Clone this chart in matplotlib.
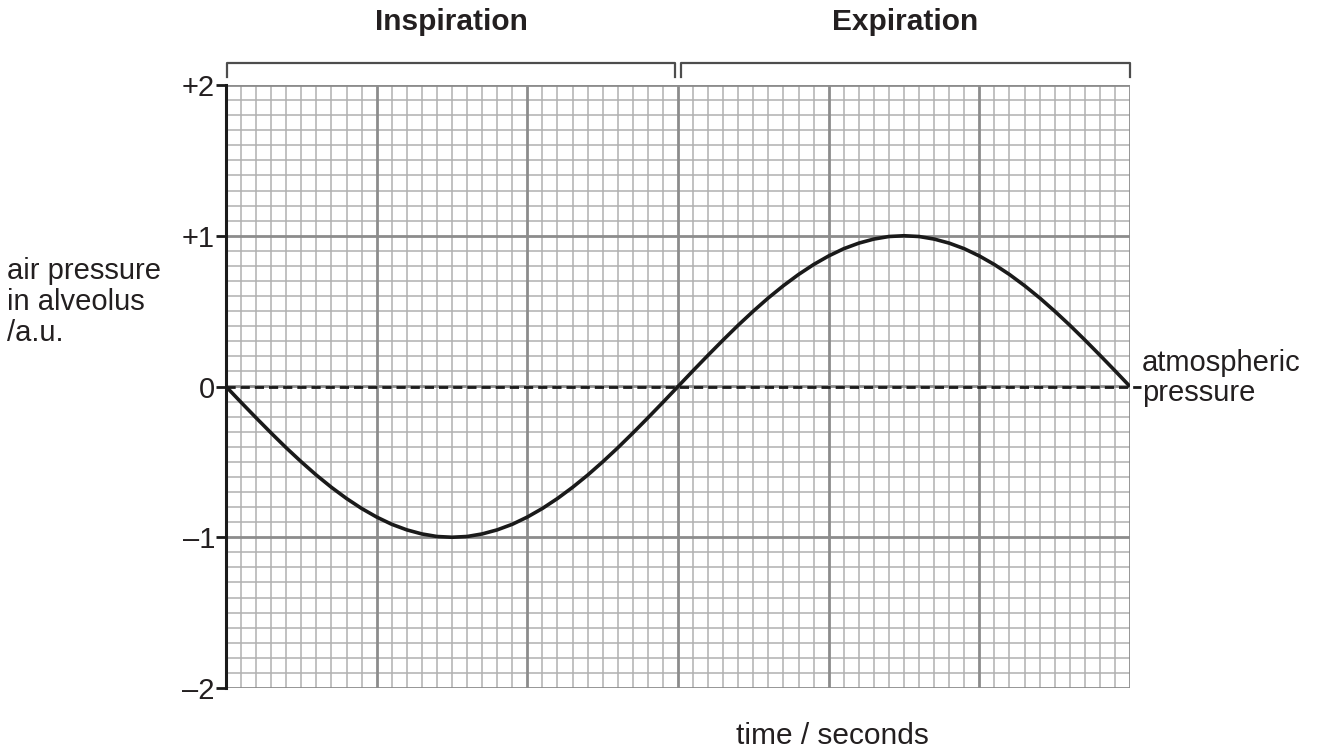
import matplotlib
matplotlib.use("Agg")
import matplotlib.pyplot as plt
import numpy as np

plt.rcParams['font.family'] = ['Liberation Sans', 'DejaVu Sans']

# data (time in major-grid units, pressure in a.u.)
time = [round(0.1 * i, 1) for i in range(61)]
pressure = [0.0, -0.105, -0.208, -0.309, -0.407, -0.500, -0.588, -0.669, -0.743, -0.809,
            -0.866, -0.914, -0.951, -0.978, -0.995, -1.0, -0.995, -0.978, -0.951, -0.914,
            -0.866, -0.809, -0.743, -0.669, -0.588, -0.500, -0.407, -0.309, -0.208, -0.105,
            0.0, 0.105, 0.208, 0.309, 0.407, 0.500, 0.588, 0.669, 0.743, 0.809,
            0.866, 0.914, 0.951, 0.978, 0.995, 1.0, 0.995, 0.978, 0.951, 0.914,
            0.866, 0.809, 0.743, 0.669, 0.588, 0.500, 0.407, 0.309, 0.208, 0.105, 0.0]
yticks = [-2, -1, 0, 1, 2]
yticklabels = ['\u20132', '\u20131', '0', '+1', '+2']
phases = ['Inspiration', 'Expiration']

W, H = 1317, 753
fig = plt.figure(figsize=(W / 100, H / 100), dpi=100)
L, R, T, B = 226, 1130, 85, 688
ax = fig.add_axes([L / W, 1 - B / H, (R - L) / W, (B - T) / H])
ax.set_xlim(0, 6)
ax.set_ylim(-2, 2)

# grid
for xv in np.arange(0, 6.0001, 0.1):
    major = abs(xv - round(xv)) < 1e-6
    ax.axvline(xv, color='#8c8c8c' if major else '#b0b0b0', lw=2.0 if major else 1.1, zorder=1 if major else 0.5)
for yv in np.arange(-2, 2.0001, 0.1):
    major = abs(yv - round(yv)) < 1e-6
    ax.axhline(yv, color='#8c8c8c' if major else '#b0b0b0', lw=2.0 if major else 1.1, zorder=1 if major else 0.5)

for s in ['top', 'right', 'bottom']:
    ax.spines[s].set_visible(False)
ax.spines['left'].set_linewidth(2.2)
ax.spines['left'].set_color('#1a1a1a')
ax.spines['left'].set_zorder(3)

ax.set_xticks([])
ax.set_yticks(yticks)
ax.set_yticklabels(yticklabels, fontsize=21, color='#231f20')
ax.tick_params(axis='y', length=7, width=2, color='#1a1a1a', pad=1)

# atmospheric pressure dashed line
ax.plot([0, 6.07], [0, 0], color='#1a1a1a', lw=2.0, ls=(0, (3.3, 1.8)), clip_on=False, zorder=4)

# curve
ax.plot(time, pressure, color='#1a1a1a', lw=2.6, zorder=5, solid_capstyle='butt', solid_joinstyle='round')

# brackets
def bracket(x0, x1):
    y0, y1 = 1 - 63 / H, 1 - 77 / H
    fig.add_artist(plt.Line2D([x0 / W, x0 / W, x1 / W, x1 / W], [y1, y0, y0, y1],
                              color='#4d4d4d', lw=1.6))
bracket(227, 675)
bracket(681, 1130)

fig.text(451 / W, 1 - 22 / H, phases[0], fontsize=21.5, fontweight='bold', ha='center', va='center', color='#231f20')
fig.text(905 / W, 1 - 22 / H, phases[1], fontsize=21.5, fontweight='bold', ha='center', va='center', color='#231f20')

fig.text(7 / W, 1 - 302 / H, 'air pressure\nin alveolus\n/a.u.', fontsize=21, ha='left', va='center',
         linespacing=1.15, color='#231f20')
fig.text(1142 / W, 1 - 378 / H, 'atmospheric\npressure', fontsize=21, ha='left', va='center',
         linespacing=1.12, color='#231f20')
fig.text(832 / W, 1 - 736 / H, 'time / seconds', fontsize=21.5, ha='center', va='center', color='#231f20')

fig.savefig('out.png', dpi=100, facecolor='white')
